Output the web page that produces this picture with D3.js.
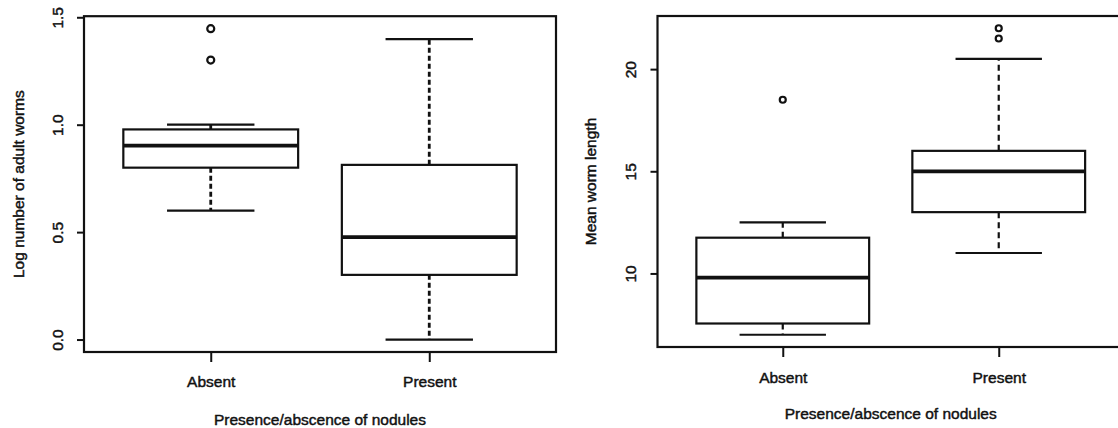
<!DOCTYPE html>
<html>
<head>
<meta charset="utf-8">
<script src="https://cdn.jsdelivr.net/npm/d3@7/dist/d3.min.js"></script>
<style>
  html, body { margin: 0; padding: 0; background: #fff; }
  svg { display: block; }
  text { font-family: "Liberation Sans", Arial, Helvetica, sans-serif; fill: #111; stroke: #111; stroke-width: 0.45px; }
</style>
</head>
<body>
<svg id="chart" width="1118" height="428"></svg>
<script>
// ---- data ----
const categories = ["Absent", "Present"];

// Left panel: log number of adult worms
const leftLow     = [0.60, 0.00];
const leftQ1      = [0.80, 0.301];
const leftMedian  = [0.903, 0.477];
const leftQ3      = [0.978, 0.813];
const leftHigh    = [1.00, 1.398];
const leftOutliers = [[1.301, 1.447], []];
const leftTicks   = [0.0, 0.5, 1.0, 1.5];

// Right panel: mean worm length
const rightLow     = [7.0, 11.0];
const rightQ1      = [7.55, 13.0];
const rightMedian  = [9.8, 15.0];
const rightQ3      = [11.75, 16.0];
const rightHigh    = [12.5, 20.5];
const rightOutliers = [[18.5], [21.5, 22.0]];
const rightTicks   = [10, 15, 20];

const yLabelLeft  = "Log number of adult worms";
const yLabelRight = "Mean worm length";
const xLabel      = "Presence/abscence of nodules";

const svg = d3.select("#chart");
const ink = "#111";
const fontSize = "15.5px";

function drawPanel(cfg) {
  const g = svg.append("g");
  const x = d3.scaleLinear().domain([0.42, 2.58]).range([cfg.left, cfg.right]);
  const y = d3.scaleLinear().domain(cfg.yDomain).range([cfg.bottom, cfg.top]);
  const unit = x(2) - x(1);
  const boxW = 0.8 * unit;
  const capW = 0.4 * unit;

  // frame
  g.append("rect")
    .attr("x", cfg.left).attr("y", cfg.top)
    .attr("width", cfg.right - cfg.left).attr("height", cfg.bottom - cfg.top)
    .attr("fill", "none").attr("stroke", ink).attr("stroke-width", 2.2);

  // y axis
  const yAxis = d3.axisLeft(y).tickValues(cfg.ticks).tickSize(7).tickPadding(0)
    .tickFormat(cfg.tickFormat);
  const ya = g.append("g").attr("transform", `translate(${cfg.left},0)`).call(yAxis);
  ya.select(".domain").remove();
  ya.selectAll(".tick line").attr("stroke", ink).attr("stroke-width", 2);
  ya.selectAll(".tick text")
    .attr("x", null).attr("dy", null)
    .attr("transform", `translate(${cfg.tickLabelOffset},0) rotate(-90)`)
    .attr("text-anchor", "middle")
    .attr("dominant-baseline", "central")
    .style("font-size", fontSize)
    .attr("fill", ink);

  // x axis
  const xAxis = d3.axisBottom(x).tickValues([1, 2]).tickSize(10).tickPadding(0)
    .tickFormat((d) => categories[d - 1]);
  const xa = g.append("g").attr("transform", `translate(0,${cfg.bottom})`).call(xAxis);
  xa.select(".domain").remove();
  xa.selectAll(".tick line").attr("stroke", ink).attr("stroke-width", 2);
  xa.selectAll(".tick text")
    .attr("y", cfg.xLabelY - cfg.bottom).attr("dy", null)
    .attr("dominant-baseline", "central")
    .style("font-size", fontSize)
    .attr("fill", ink);

  // axis titles
  g.append("text")
    .attr("transform", `translate(${cfg.yTitleX},${(cfg.top + cfg.bottom) / 2}) rotate(-90)`)
    .attr("text-anchor", "middle").attr("dominant-baseline", "central")
    .style("font-size", fontSize).text(cfg.yTitle);
  g.append("text")
    .attr("x", (cfg.left + cfg.right) / 2).attr("y", cfg.xTitleY)
    .attr("text-anchor", "middle").attr("dominant-baseline", "central")
    .style("font-size", fontSize).text(xLabel);

  // boxes
  categories.forEach((c, i) => {
    const cx = x(i + 1);
    const bg = g.append("g");
    // whiskers (dashed)
    [[cfg.q3[i], cfg.high[i]], [cfg.q1[i], cfg.low[i]]].forEach(([a, b]) => {
      bg.append("line")
        .attr("x1", cx).attr("x2", cx).attr("y1", y(a)).attr("y2", y(b))
        .attr("stroke", ink).attr("stroke-width", cfg.dashW)
        .attr("stroke-dasharray", cfg.dash);
    });
    // caps
    [cfg.high[i], cfg.low[i]].forEach((v) => {
      bg.append("line")
        .attr("x1", cx - capW / 2).attr("x2", cx + capW / 2)
        .attr("y1", y(v)).attr("y2", y(v))
        .attr("stroke", ink).attr("stroke-width", 2.2);
    });
    // box
    bg.append("rect")
      .attr("x", cx - boxW / 2).attr("width", boxW)
      .attr("y", y(cfg.q3[i])).attr("height", y(cfg.q1[i]) - y(cfg.q3[i]))
      .attr("fill", "#fff").attr("stroke", ink).attr("stroke-width", 2.2);
    // median
    bg.append("line")
      .attr("x1", cx - boxW / 2).attr("x2", cx + boxW / 2)
      .attr("y1", y(cfg.median[i])).attr("y2", y(cfg.median[i]))
      .attr("stroke", ink).attr("stroke-width", 3.8);
    // outliers
    cfg.outliers[i].forEach((v) => {
      bg.append("circle")
        .attr("cx", cx).attr("cy", y(v)).attr("r", cfg.outR)
        .attr("fill", "none").attr("stroke", ink).attr("stroke-width", 2.2);
    });
  });
}

drawPanel({
  left: 84, right: 556, top: 16.2, bottom: 352,
  yDomain: [-0.058, 1.505],
  ticks: leftTicks, tickFormat: d3.format(".1f"),
  tickLabelOffset: -27,
  yTitle: yLabelLeft, yTitleX: 18,
  xLabelY: 381, xTitleY: 419,
  low: leftLow, q1: leftQ1, median: leftMedian, q3: leftQ3, high: leftHigh,
  outliers: leftOutliers, outR: 3.5,
  dash: "5,3", dashW: 2.8
});

drawPanel({
  left: 657.5, right: 1124, top: 16, bottom: 347,
  yDomain: [6.4, 22.6],
  ticks: rightTicks, tickFormat: d3.format("d"),
  tickLabelOffset: -27.5,
  yTitle: yLabelRight, yTitleX: 590,
  xLabelY: 377, xTitleY: 413,
  low: rightLow, q1: rightQ1, median: rightMedian, q3: rightQ3, high: rightHigh,
  outliers: rightOutliers, outR: 3,
  dash: "6,4", dashW: 2.2
});
</script>
</body>
</html>
